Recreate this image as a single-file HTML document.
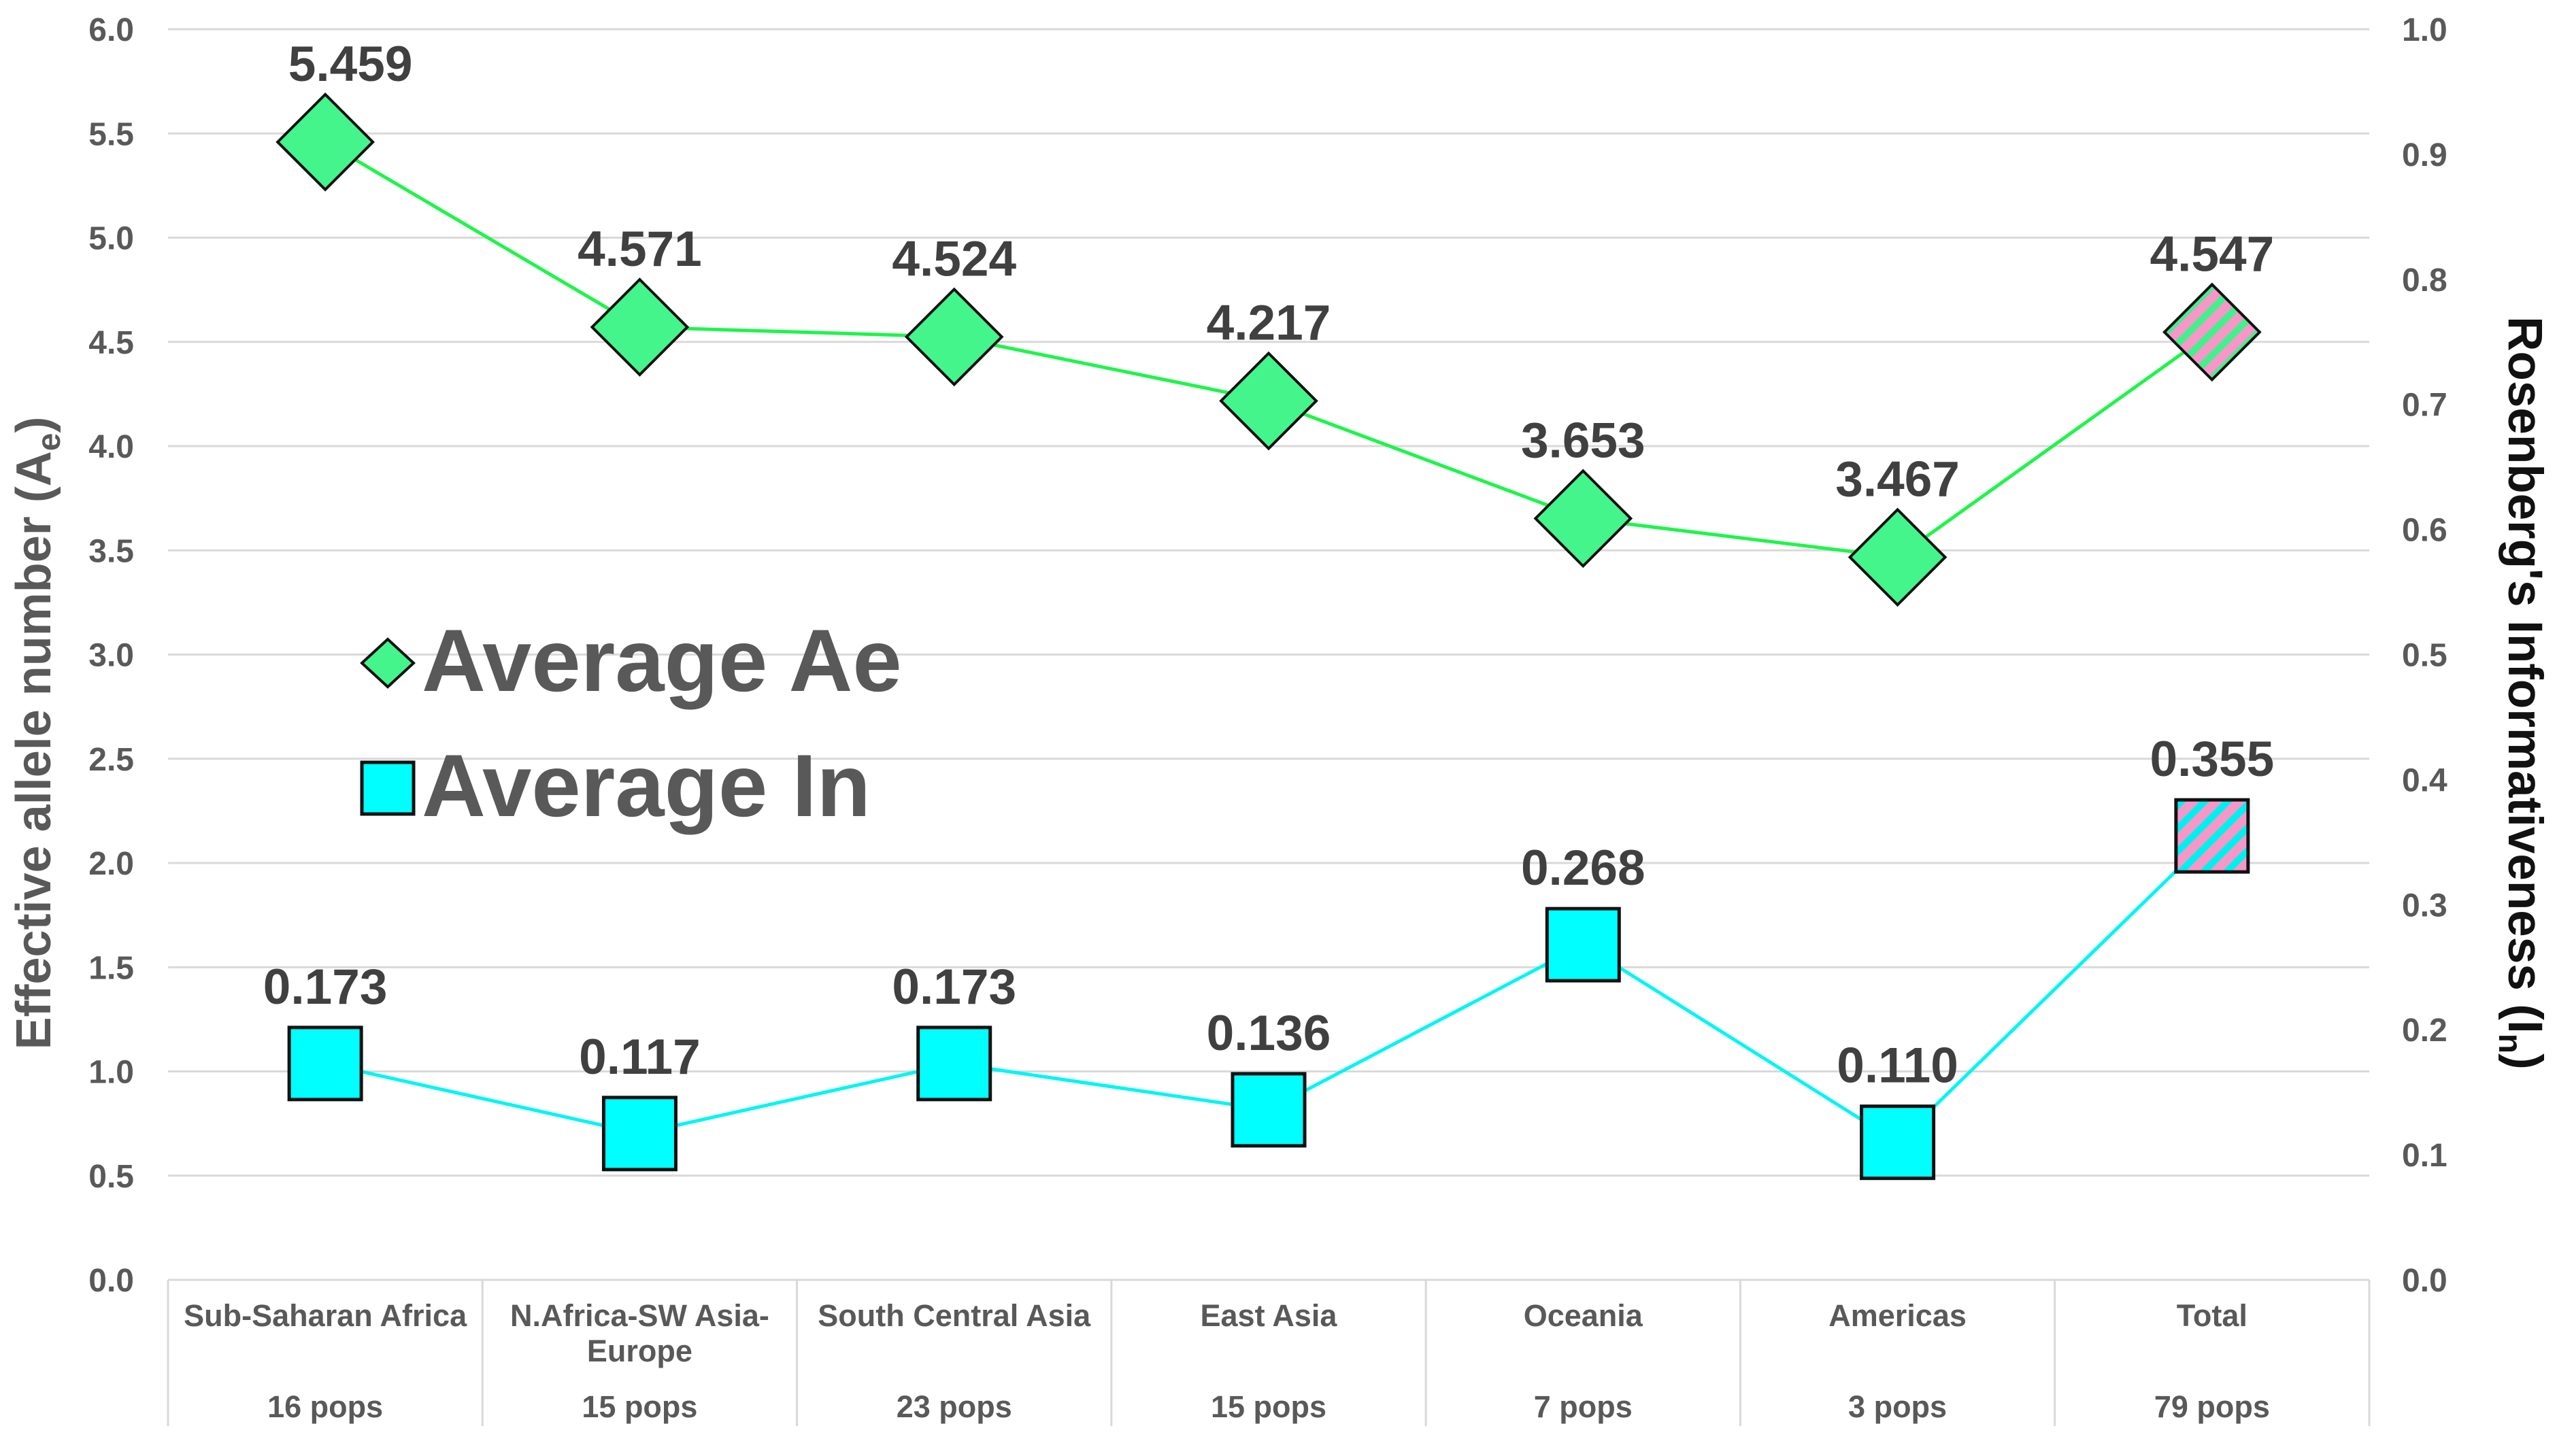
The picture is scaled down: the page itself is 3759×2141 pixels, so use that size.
<!DOCTYPE html>
<html><head><meta charset="utf-8"><style>
body{margin:0;background:#fff}
svg{display:block;font-family:"Liberation Sans",Arial,sans-serif}
</style></head><body>
<svg id="c" width="3759" height="2141" viewBox="0 0 3759 2141">
<defs>
<pattern id="hatchG" patternUnits="userSpaceOnUse" width="24" height="24" patternTransform="rotate(-45)">
<rect width="24" height="24" fill="#f598c8"/><rect width="24" height="10" fill="#44f08c"/></pattern>
<pattern id="hatchC" patternUnits="userSpaceOnUse" width="24" height="24" patternTransform="rotate(-45)">
<rect width="24" height="24" fill="#f598c8"/><rect width="24" height="10" fill="#00f0f0"/></pattern>
</defs>
<g id="grid"></g><g id="marks"></g>
</svg>
<script>
const categories=["Sub-Saharan Africa","N.Africa-SW Asia-|Europe","South Central Asia","East Asia","Oceania","Americas","Total"];
const pops=["16 pops","15 pops","23 pops","15 pops","7 pops","3 pops","79 pops"];
const aeValues=[5.459,4.571,4.524,4.217,3.653,3.467,4.547];
const inValues=[0.173,0.117,0.173,0.136,0.268,0.110,0.355];
const leftTicks=["0.0","0.5","1.0","1.5","2.0","2.5","3.0","3.5","4.0","4.5","5.0","5.5","6.0"];
const rightTicks=["0.0","0.1","0.2","0.3","0.4","0.5","0.6","0.7","0.8","0.9","1.0"];
const NS="http://www.w3.org/2000/svg";
const L=247,R=3483,T=43,B=1882,BOT=2097;
const cw=(R-L)/categories.length;
const xc=i=>L+cw*(i+0.5);
const yL=v=>B-(v/6)*(B-T);
const yR=v=>B-v*(B-T);
const grid=document.getElementById('grid'),marks=document.getElementById('marks');
function mk(tag,at,parent,txt){const e=document.createElementNS(NS,tag);for(const k in at)e.setAttribute(k,at[k]);if(txt!==undefined)e.textContent=txt;parent.appendChild(e);return e;}
leftTicks.forEach(t=>{const y=yL(parseFloat(t));
const g=mk('line',{x1:L,x2:R,y1:y,y2:y,stroke:'#d9d9d9','stroke-width':3},grid);


const tx=mk('text',{x:197,y:y+17,'text-anchor':'end','font-size':48,'font-weight':'bold',fill:'#595959'},grid,t);

});
rightTicks.forEach(t=>{const y=yR(parseFloat(t));
const tx=mk('text',{x:3531,y:y+17,'font-size':48,'font-weight':'bold',fill:'#595959'},grid,t);

});
for(let i=0;i<=categories.length;i++){const x=L+cw*i;
const l=mk('line',{x1:x,x2:x,y1:B,y2:BOT,stroke:'#d9d9d9','stroke-width':3},grid);

}
categories.forEach((c,i)=>{const parts=c.split('|');
parts.forEach((p,j)=>{const t=mk('text',{x:xc(i),y:1950+j*52,'text-anchor':'middle','font-size':45,'font-weight':'bold',fill:'#595959'},grid,p);

});
const t2=mk('text',{x:xc(i),y:2084,'text-anchor':'middle','font-size':45,'font-weight':'bold',fill:'#595959'},grid,pops[i]);

});
const aePts=aeValues.map((v,i)=>xc(i)+','+yL(v)).join(' ');
const inPts=inValues.map((v,i)=>xc(i)+','+yR(v)).join(' ');
const l1=mk('polyline',{points:aePts,fill:'none',stroke:'#1ef54a','stroke-width':5},marks);


const l2=mk('polyline',{points:inPts,fill:'none',stroke:'#00f5f5','stroke-width':5},marks);


const n=categories.length;
aeValues.forEach((v,i)=>{const x=xc(i),y=yL(v),h=70;
const d=mk('polygon',{points:`${x},${y-h} ${x+h},${y} ${x},${y+h} ${x-h},${y}`,fill:i==n-1?'url(#hatchG)':'#44f58c',stroke:'#111','stroke-width':4},marks);


const t=mk('text',{x:x+(i==0?37:0),y:y-90,'text-anchor':'middle','font-size':73,'font-weight':'bold',fill:'#404040'},marks,v.toFixed(3));

});
inValues.forEach((v,i)=>{const x=xc(i),y=yR(v),h=53;
const s=mk('rect',{x:x-h,y:y-h,width:2*h,height:2*h,fill:i==n-1?'url(#hatchC)':'#00ffff',stroke:'#111','stroke-width':5},marks);


const t=mk('text',{x:x,y:y-88,'text-anchor':'middle','font-size':73,'font-weight':'bold',fill:'#404040'},marks,v.toFixed(3));

});
</script>
<svg width="3759" height="2141" style="position:absolute;left:0;top:0" font-family="Liberation Sans,Arial,sans-serif">
<g>
<g>
<polygon points="570,940 608,975 570,1010 532,975" fill="#44f58c" stroke="#111" stroke-width="4"/>
<text x="620" y="1016" font-size="130" font-weight="bold" fill="#595959">Average Ae</text></g>
<g>
<rect x="532" y="1121" width="76" height="76" fill="#00ffff" stroke="#111" stroke-width="5"/>
<text x="620" y="1200" font-size="130" font-weight="bold" fill="#595959">Average In</text></g>
</g>
<text transform="translate(74,1078) rotate(-90)" text-anchor="middle" font-size="72" font-weight="bold" fill="#595959">Effective allele number (A<tspan font-size="48" dy="14">e</tspan><tspan dy="-14">)</tspan></text>
<text transform="translate(3688,1019) rotate(90)" text-anchor="middle" font-size="71" font-weight="bold" fill="#111">Rosenberg's Informativeness (I<tspan font-size="48" dy="14">n</tspan><tspan dy="-14">)</tspan></text>
</svg>
</body></html>
